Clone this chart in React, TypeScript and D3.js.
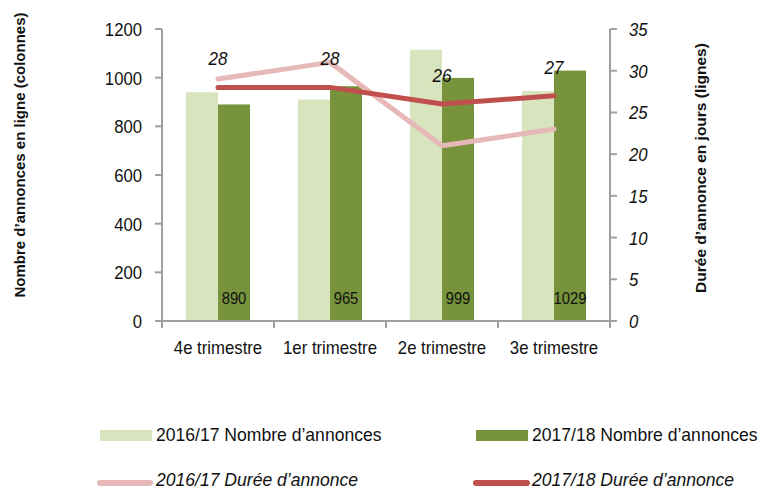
import React from "react";
import * as d3 from "d3";

const categories = ["4e trimestre", "1er trimestre", "2e trimestre", "3e trimestre"];
const count1617 = [940, 910, 1115, 945];
const count1718 = [890, 965, 999, 1029];
const duree1617 = [29, 31, 21, 23];
const duree1718 = [28, 28, 26, 27];
const leftTicks = [0, 200, 400, 600, 800, 1000, 1200];
const rightTicks = [0, 5, 10, 15, 20, 25, 30, 35];

const W = 759;
const H = 492;
const FONT = "'Liberation Sans', Arial, sans-serif";
const AXIS = "#a0a0a0";

const C_LIGHT = "#d7e4bd";
const C_DARK = "#77933c";
const C_LLINE = "#e6b9b8";
const C_DLINE = "#c0504d";

// text squeezed a bit horizontally, the original uses a narrow face
function T({ x, y, sx = 0.93, anchor = "start", size = 18, italic = false, children }) {
  return (
    <text
      transform={`translate(${x},${y}) scale(${sx},1)`}
      textAnchor={anchor}
      fontSize={size}
      fontStyle={italic ? "italic" : "normal"}
      fill="#111"
    >
      {children}
    </text>
  );
}

function App() {
  const x = d3.scaleBand().domain(categories).range([162, 610]);
  const yL = d3.scaleLinear().domain([0, 1200]).range([321, 29]);
  const yR = d3.scaleLinear().domain([0, 35]).range([321, 29]);
  const inner = d3.scaleBand().domain(["a", "b"]).range([0, 64]);
  const off = (x.bandwidth() - 64) / 2;
  const cx = (c) => x(c) + x.bandwidth() / 2;

  const line = d3
    .line()
    .x((d, i) => cx(categories[i]))
    .y((d) => yR(d));

  return (
    <div style={{ position: "absolute", left: 0, top: 0 }}>
      <svg width={W} height={H} style={{ display: "block", fontFamily: FONT }}>
        {/* bars */}
        {categories.map((c, i) => (
          <g key={c}>
            <rect x={x(c) + off + inner("a")} y={yL(count1617[i])} width={inner.bandwidth()} height={yL(0) - yL(count1617[i])} fill={C_LIGHT} />
            <rect x={x(c) + off + inner("b")} y={yL(count1718[i])} width={inner.bandwidth()} height={yL(0) - yL(count1718[i])} fill={C_DARK} />
            <T x={x(c) + off + inner("b") + inner.bandwidth() / 2} y={304} anchor="middle" size={17} sx={0.87}>
              {count1718[i]}
            </T>
          </g>
        ))}

        {/* lines */}
        <path d={line(duree1617)} fill="none" stroke={C_LLINE} strokeWidth={5} strokeLinecap="round" strokeLinejoin="round" />
        <path d={line(duree1718)} fill="none" stroke={C_DLINE} strokeWidth={5} strokeLinecap="round" strokeLinejoin="round" />
        {duree1718.map((d, i) => (
          <T key={i} x={cx(categories[i])} y={yR(d) - 22} anchor="middle" size={19} sx={0.9} italic>
            {d}
          </T>
        ))}

        {/* left axis */}
        <line x1={162} x2={162} y1={yL(1200)} y2={yL(0)} stroke={AXIS} strokeWidth={2} />
        {leftTicks.map((t) => (
          <g key={t}>
            <line x1={155} x2={162} y1={yL(t)} y2={yL(t)} stroke={AXIS} strokeWidth={2} />
            <T x={142} y={yL(t) + 7} anchor="end" size={19} sx={0.88}>{t}</T>
          </g>
        ))}

        {/* right axis */}
        <line x1={610} x2={610} y1={yR(35)} y2={yR(0)} stroke={AXIS} strokeWidth={2} />
        {rightTicks.map((t) => (
          <g key={t}>
            <line x1={610} x2={617} y1={yR(t)} y2={yR(t)} stroke={AXIS} strokeWidth={2} />
            <T x={629} y={yR(t) + 7} size={19} sx={0.88} italic>{t}</T>
          </g>
        ))}

        {/* x axis */}
        <line x1={161} x2={611} y1={yL(0)} y2={yL(0)} stroke={AXIS} strokeWidth={2} />
        {[...categories.map((c) => x(c)), x.range()[1]].map((v, i) => (
          <line key={i} x1={v} x2={v} y1={yL(0)} y2={yL(0) + 7} stroke={AXIS} strokeWidth={2} />
        ))}
        {categories.map((c) => (
          <T key={c} x={cx(c)} y={354} anchor="middle" size={18} sx={0.93}>{c}</T>
        ))}

        {/* axis titles */}
        <text transform="translate(25,155) rotate(-90)" textAnchor="middle" fontSize={15} fontWeight="bold" fill="#111">
          Nombre d’annonces en ligne (colonnes)
        </text>
        <text transform="translate(706,168) rotate(-90)" textAnchor="middle" fontSize={15.5} fontWeight="bold" fill="#111">
          Durée d’annonce en jours (lignes)
        </text>

        {/* legend */}
        <rect x={100} y={430} width={52} height={11} fill={C_LIGHT} />
        <T x={156} y={441} size={18.6} sx={0.945}>2016/17 Nombre d’annonces</T>
        <rect x={476} y={430} width={52} height={11} fill={C_DARK} />
        <T x={532} y={441} size={18.6} sx={0.945}>2017/18 Nombre d’annonces</T>
        <line x1={100} x2={150} y1={483} y2={483} stroke={C_LLINE} strokeWidth={6} strokeLinecap="round" />
        <T x={156} y={486} size={18.6} sx={0.945} italic>2016/17 Durée d’annonce</T>
        <line x1={476} x2={527} y1={483} y2={483} stroke={C_DLINE} strokeWidth={6} strokeLinecap="round" />
        <T x={532} y={486} size={18.6} sx={0.945} italic>2017/18 Durée d’annonce</T>
      </svg>
    </div>
  );
}

export default App;
